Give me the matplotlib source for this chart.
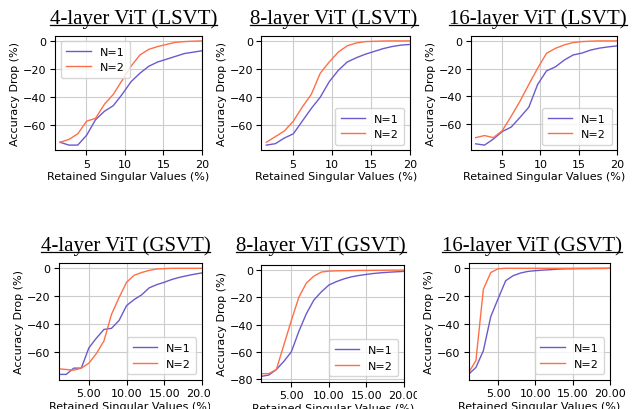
import matplotlib
matplotlib.use("Agg")
import matplotlib.pyplot as plt
from matplotlib.transforms import Bbox
from matplotlib.lines import Line2D

# ---------------- data ----------------
x_top = [1.6, 2.75, 3.9, 5.05, 6.2, 7.35, 8.5, 9.65, 10.8, 11.95, 13.1, 14.25, 15.4, 16.55, 17.7, 18.85, 20.0]
x_bot = [1, 2, 3, 4, 5, 6, 7, 8, 9, 10, 11, 12, 13, 14, 15, 16, 17, 18, 19, 20]

lsvt4_n1 = [-72, -74, -74, -67, -56, -50, -46, -38, -29, -23, -18, -15, -13, -11, -9, -8, -7]
lsvt4_n2 = [-72, -70, -66, -57, -55, -45, -38, -28, -18, -10, -6, -4, -2.5, -1, -0.5, -0.2, 0]

lsvt8_n1 = [-74, -73, -69, -66, -57, -48, -40, -29, -21, -15, -12, -9.5, -7.5, -5.5, -4, -3, -2.5]
lsvt8_n2 = [-72, -68, -64, -57, -47, -38, -23, -15, -8, -3.5, -1.5, -0.5, -0.3, -0.1, 0, 0, 0]

lsvt16_n1 = [-74.5, -75.4, -71, -65.6, -62.4, -55.4, -48, -31.5, -21.7, -18.8, -13.9, -10.2, -8.8, -6.6, -5.2, -4.3, -3.6]
lsvt16_n2 = [-70, -68.5, -70, -65, -54.6, -43.7, -31.5, -19.8, -9, -5.4, -2.9, -1.2, -0.5, -0.2, 0, 0, 0]

gsvt4_n1 = [-76, -76, -71.5, -71.5, -57, -50, -43.8, -43, -37.4, -26.7, -22.4, -19, -14, -11.7, -10, -8, -6.5, -5.3, -4.2, -3.3]
gsvt4_n2 = [-72, -72.5, -73, -71.5, -68, -61, -52, -33, -21, -10, -5, -3, -1.5, -0.5, -0.2, 0, 0, 0, 0, 0]

gsvt8_n1 = [-78, -77, -73, -67, -60, -45, -32, -22, -16, -11, -8.5, -6.5, -5, -4, -3.2, -2.5, -2, -1.6, -1.3, -1]
gsvt8_n2 = [-76, -76, -73, -55, -37, -20, -9.5, -4.5, -1.5, -0.8, -0.6, -0.5, -0.4, -0.3, -0.3, -0.2, -0.2, -0.1, -0.1, 0]

gsvt16_n1 = [-76, -71, -59, -34.5, -21.6, -8.9, -5.3, -3.4, -2.2, -1.7, -1.3, -1, -0.6, -0.4, -0.3, -0.2, -0.2, -0.1, -0.1, 0]
gsvt16_n2 = [-75, -66, -15, -3, -0.3, 0, 0, 0, 0, 0, 0, 0, 0, 0, 0, 0, 0, 0, 0, 0]

titles = ["4-layer ViT (LSVT)", "8-layer ViT (LSVT)", "16-layer ViT (LSVT)",
          "4-layer ViT (GSVT)", "8-layer ViT (GSVT)", "16-layer ViT (GSVT)"]
labels = ["N=1", "N=2"]
xticks = [5, 10, 15, 20]
xlabel = "Retained Singular Values (%)"
ylabel = "Accuracy Drop (%)"

C1 = "#6A5ACD"
C2 = "#FF6F47"

W, H = 638, 410
fig = plt.figure(figsize=(W / 100, H / 100), dpi=100)
plt.rcParams["font.family"] = ["DejaVu Sans"]

def rect(l, t, r, b):
    return [l / W, 1 - b / H, (r - l) / W, (b - t) / H]

panels = [
    (rect(55, 36.7, 202, 151.3), x_top, lsvt4_n1, lsvt4_n2, "upper left", False, (0.95, 20)),
    (rect(261.3, 36.7, 410, 151.3), x_top, lsvt8_n1, lsvt8_n2, "lower right", False, (0.95, 20)),
    (rect(470.7, 36.7, 617.3, 151.3), x_top, lsvt16_n1, lsvt16_n2, "lower right", False, (0.95, 20)),
    (rect(58.7, 264, 202, 380.7), x_bot, gsvt4_n1, gsvt4_n2, "lower right", True, (1, 20)),
    (rect(261.3, 265.7, 404, 382.7), x_bot, gsvt8_n1, gsvt8_n2, "lower right", True, (1, 20)),
    (rect(468.5, 264, 609.7, 380.7), x_bot, gsvt16_n1, gsvt16_n2, "lower right", True, (1, 20)),
]

axes = []
for (r, xs, y1, y2, loc, fmt2, xl) in panels:
    ax = fig.add_axes(r)
    ax.plot(xs, y1, color=C1, lw=1.0, label=labels[0])
    ax.plot(xs, y2, color=C2, lw=1.0, label=labels[1])
    ax.set_xlim(*xl)
    ax.set_xticks(xticks)
    if fmt2:
        ax.set_xticklabels(["%.2f" % v for v in xticks])
    ax.grid(True, color="#cccccc", lw=0.8)
    ax.set_axisbelow(True)
    ax.tick_params(labelsize=8, length=3.5, width=0.8, pad=2.5)
    ax.set_xlabel(xlabel, fontsize=8, labelpad=2)
    ax.set_ylabel(ylabel, fontsize=8, labelpad=2)
    for s in ax.spines.values():
        s.set_linewidth(0.8)
    ax.legend(loc=loc, fontsize=8, framealpha=0.8, borderpad=0.5, handlelength=2.2)
    axes.append(ax)

# titles (serif, underlined)
title_pos = [(133.5, 24), (334, 24), (538, 24), (125.6, 251), (321, 251), (532, 251)]
title_objs = []
for t, (cx, by) in zip(titles, title_pos):
    tt = fig.text(cx / W, 1 - by / H, t, ha="center", va="baseline",
                  fontsize=15, family=["Liberation Serif", "DejaVu Serif"])
    title_objs.append((tt, by))

fig.canvas.draw()
renderer = fig.canvas.get_renderer()
for tt, by in title_objs:
    bb = tt.get_window_extent(renderer)
    yline = 1 - (by + 2) / H
    fig.add_artist(Line2D([bb.x0 / W, bb.x1 / W], [yline, yline],
                          transform=fig.transFigure, color="black", lw=0.9))

# clip bottom-row panel texts to their column (composite-image look)
cols = [(0, 210), (210, 417), (417, 638)]
for ax, (c0, c1) in zip(axes[3:], cols):
    clip = Bbox([[c0, 0], [c1, H]])
    texts = list(ax.get_xticklabels()) + [ax.xaxis.label]
    for tx in texts:
        tx.set_clip_box(clip)
        tx.set_clip_on(True)

fig.savefig("out.png", dpi=100)
